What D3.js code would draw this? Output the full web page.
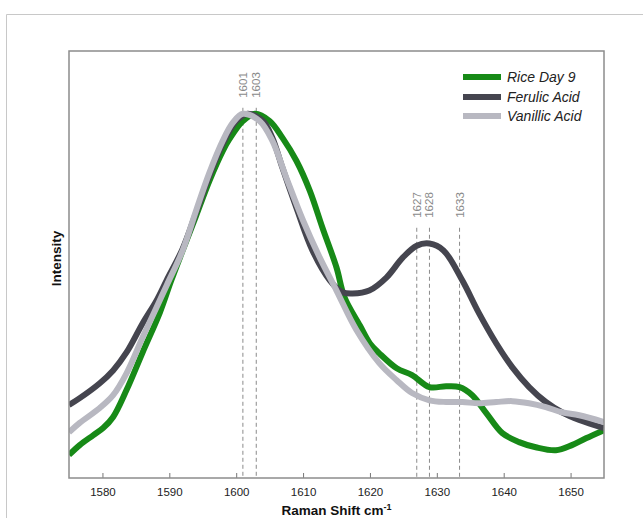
<!DOCTYPE html>
<html><head><meta charset="utf-8">
<script src="https://cdn.jsdelivr.net/npm/d3@7"></script>
<style>body{margin:0;background:#fff;font-family:"Liberation Sans",Arial,Helvetica,sans-serif}</style>
</head><body>
<svg id="c" width="643" height="518"></svg>
<script>
const xTicks = [1580,1590,1600,1610,1620,1630,1640,1650];
const seriesNames = ["Rice Day 9","Ferulic Acid","Vanillic Acid"];
const riceX = [1575,1576.6,1578.6,1580.1,1581.6,1583.6,1586,1588.6,1590.3,1592,1594,1596,1598,1599,1601,1602.8,1605,1606.9,1609,1611,1612.9,1615,1616.2,1618.5,1620,1621.4,1624,1626.3,1628.9,1631.4,1633.4,1635.3,1637.4,1639.8,1642.3,1644.8,1647.8,1650.2,1652.3,1655];
const riceY = [5.4,7.7,10.0,11.7,14.3,20.6,29.4,38.8,46.3,53.3,61.4,69.6,76.6,79.4,83.6,85.3,83.6,79.7,74.3,67.3,58.6,49.3,42.3,35.7,31.5,29.2,25.7,24.1,21.3,21.5,21.3,19.4,15.2,10.5,8.4,7.2,6.5,7.7,9.3,11.2];
const ferulicX = [1575,1576.6,1579.6,1581.6,1583.6,1586,1588.1,1589.6,1592,1594,1596,1598,1600,1601.7,1604,1605.4,1606.9,1609,1611.4,1614,1615.9,1617.4,1619.9,1622.5,1624.9,1627,1628.9,1631,1633.8,1636.3,1638.9,1641.3,1643.8,1646.3,1648.7,1651.3,1655];
const ferulicY = [17.1,18.7,22.2,25.2,29.4,36.2,41.6,46.3,53.7,62.1,70.8,78.3,83.6,85.3,83.6,79.7,72.7,63.3,53.3,46.3,43.5,43.2,43.9,47.0,51.6,54.4,54.9,53.3,46.3,38.6,31.5,25.9,21.3,17.8,15.4,13.6,11.7];
const vanillicX = [1575,1576.6,1579.6,1581.6,1583.6,1586,1588.1,1589.6,1592,1594,1596,1598,1599.5,1601,1603.5,1605.4,1607.5,1610,1612.5,1615,1618,1621.4,1624,1626.3,1628.9,1631.4,1633.8,1636.3,1638.9,1641.3,1643.8,1646.3,1648.7,1651.3,1655];
const vanillicY = [10.7,12.9,16.4,19.4,24.5,32.9,40.0,45.1,53.3,62.6,71.5,79.0,83.2,85.3,83.6,79.0,70.3,60.3,51.6,43.9,34.6,26.9,22.9,19.9,18.2,17.8,17.8,17.5,17.8,18.0,17.5,16.6,15.4,14.7,13.1];
const markX = [1601,1603,1627,1628.9,1633.4];
const markLabels = ["1601","1603","1627","1628","1633"];
const markTop = [86.7,86.7,58.6,58.6,58.6];

const colors = ["#178a17","#45454f","#b8b8c1"];
const svg = d3.select("#c");
const L=69,R=604,T=51,B=478;
const x = d3.scaleLinear().domain([1575,1655]).range([L,R]);
const y = d3.scaleLinear().domain([0,100]).range([B,T]);

// outer frame
svg.append("path").attr("d",`M6.5,518V14.5H643`).attr("fill","none").attr("stroke","#c8c8c8").attr("stroke-width",1);

svg.append("clipPath").attr("id","clip").append("rect").attr("x",L).attr("y",T).attr("width",R-L).attr("height",B-T);

// dashed markers
const mg = svg.append("g");
markX.forEach((v,i)=>{
  mg.append("line").attr("x1",x(v)).attr("x2",x(v)).attr("y1",y(markTop[i])).attr("y2",B)
    .attr("stroke","#8a8a8a").attr("stroke-width",1).attr("stroke-dasharray","4,3");
  mg.append("text").attr("transform",`translate(${x(v)},${y(markTop[i])-10}) rotate(-90)`)
    .attr("dy","0.35em").attr("text-anchor","start").attr("font-size",11.5).attr("fill","#8a8a8a").text(markLabels[i]);
});

const line = d3.line().x(d=>x(d[0])).y(d=>y(d[1])).curve(d3.curveCatmullRom.alpha(0.5));
const data = [d3.zip(riceX,riceY), d3.zip(ferulicX,ferulicY), d3.zip(vanillicX,vanillicY)];
const lg = svg.append("g").attr("clip-path","url(#clip)");
data.forEach((d,i)=>{
  lg.append("path").attr("d",line(d)).attr("fill","none").attr("stroke",colors[i]).attr("stroke-width",6).attr("stroke-linejoin","round");
});

// x axis
const ax = svg.append("g").attr("transform",`translate(0,${B})`)
  .call(d3.axisBottom(x).tickValues(xTicks).tickSizeInner(-5).tickSizeOuter(0).tickPadding(10).tickFormat(d3.format("d")));
ax.select(".domain").remove();
ax.selectAll("line").attr("stroke","#777");
ax.selectAll("text").attr("font-size",11.5).attr("fill","#222").attr("font-family","Liberation Sans,Arial,sans-serif");

// plot frame
svg.append("rect").attr("x",L).attr("y",T).attr("width",R-L).attr("height",B-T).attr("fill","none").attr("stroke","#8c8c8c").attr("stroke-width",1.5);

// axis titles
const xt = svg.append("text").attr("x",(L+R)/2).attr("y",515).attr("text-anchor","middle").attr("font-size",13.5).attr("font-weight","bold").attr("fill","#111");
xt.append("tspan").text("Raman Shift cm");
xt.append("tspan").attr("font-size",9).attr("dy",-5).text("-1");
svg.append("text").attr("transform",`translate(61,${(T+B)/2-6}) rotate(-90)`).attr("text-anchor","middle").attr("font-size",13.5).attr("font-weight","bold").attr("fill","#111").text("Intensity");

// legend
const leg = svg.append("g");
const legY=[77,97,116];
seriesNames.forEach((n,i)=>{
  leg.append("line").attr("x1",463).attr("x2",501).attr("y1",legY[i]).attr("y2",legY[i]).attr("stroke",colors[i]).attr("stroke-width",6);
  leg.append("text").attr("x",507).attr("y",legY[i]).attr("dy","0.36em").attr("font-size",14).attr("font-style","italic").attr("fill","#222").text(n);
});
</script>
</body></html>
